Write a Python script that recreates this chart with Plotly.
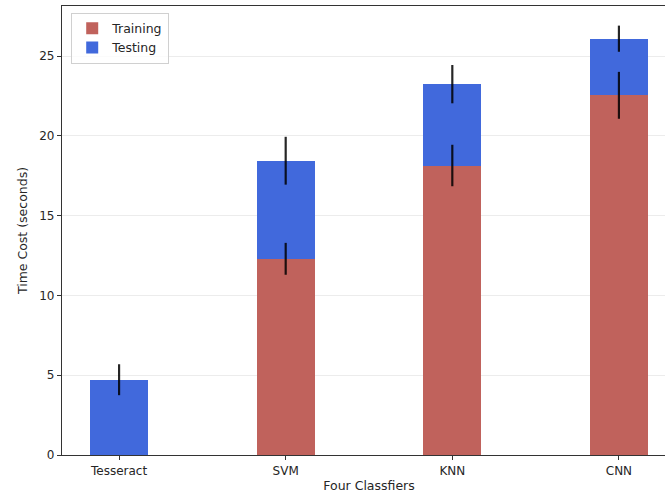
import plotly.graph_objects as go

categories = ["Tesseract", "SVM", "KNN", "CNN"]
training = [0, 12.3, 18.15, 22.55]
training_err = [0, 1.0, 1.3, 1.47]
testing = [4.72, 6.15, 5.1, 3.55]
testing_err = [0.97, 1.5, 1.2, 0.82]
y_ticks = [0, 5, 10, 15, 20, 25]

x = list(range(len(categories)))
totals = [a + b for a, b in zip(training, testing)]

err_style = dict(type="data", color="rgba(0,0,0,0.85)", thickness=2.2, width=0)

fig = go.Figure()
fig.add_trace(go.Bar(
    x=x, y=training, name="Training", width=0.35,
    marker=dict(color="#C0625C", line=dict(width=0)),
))
fig.add_trace(go.Bar(
    x=x, y=testing, name="Testing", width=0.35,
    marker=dict(color="#4169DC", line=dict(width=0)),
))
# error bars drawn above the bars
fig.add_trace(go.Scatter(
    x=x, y=training, mode="markers", marker=dict(size=0.1, opacity=0),
    error_y=dict(array=training_err, **err_style), showlegend=False, hoverinfo="skip",
))
fig.add_trace(go.Scatter(
    x=x, y=totals, mode="markers", marker=dict(size=0.1, opacity=0),
    error_y=dict(array=testing_err, **err_style), showlegend=False, hoverinfo="skip",
))

fig.update_layout(
    barmode="stack",
    width=676, height=501,
    margin=dict(l=62, r=0, t=6, b=46),
    plot_bgcolor="white", paper_bgcolor="white",
    font=dict(family="DejaVu Sans", size=12, color="#262626"),
    legend=dict(x=0.015, y=0.985, xanchor="left", yanchor="top",
                bordercolor="#d0d0d0", borderwidth=1, bgcolor="rgba(255,255,255,0.8)",
                font=dict(size=12.5), traceorder="normal", tracegroupgap=0,
                itemwidth=30),
    xaxis=dict(
        tickmode="array", tickvals=x, ticktext=categories,
        range=[-0.3425, 3.3425], showgrid=False,
        showline=True, linecolor="#333333", linewidth=1.2, mirror=True,
        ticks="outside", ticklen=4, tickcolor="#333333",
        tickfont=dict(size=12),
        title=dict(text="Four Classfiers", standoff=4, font=dict(size=12.5)),
        zeroline=False,
    ),
    yaxis=dict(
        range=[0, 28.15], tickvals=y_ticks,
        showgrid=True, gridcolor="#ececec", gridwidth=1,
        showline=True, linecolor="#333333", linewidth=1.2, mirror=True,
        ticks="outside", ticklen=4, tickcolor="#333333",
        tickfont=dict(size=12),
        title=dict(text="Time Cost (seconds)", standoff=8, font=dict(size=12.5)),
        zeroline=False,
    ),
)

fig.write_html(
    "out.html", config={"displayModeBar": False},
    post_script=("document.body.style.margin='0';"
                 "document.body.style.overflow='hidden';"
                 "document.documentElement.style.overflow='hidden';"),
)
